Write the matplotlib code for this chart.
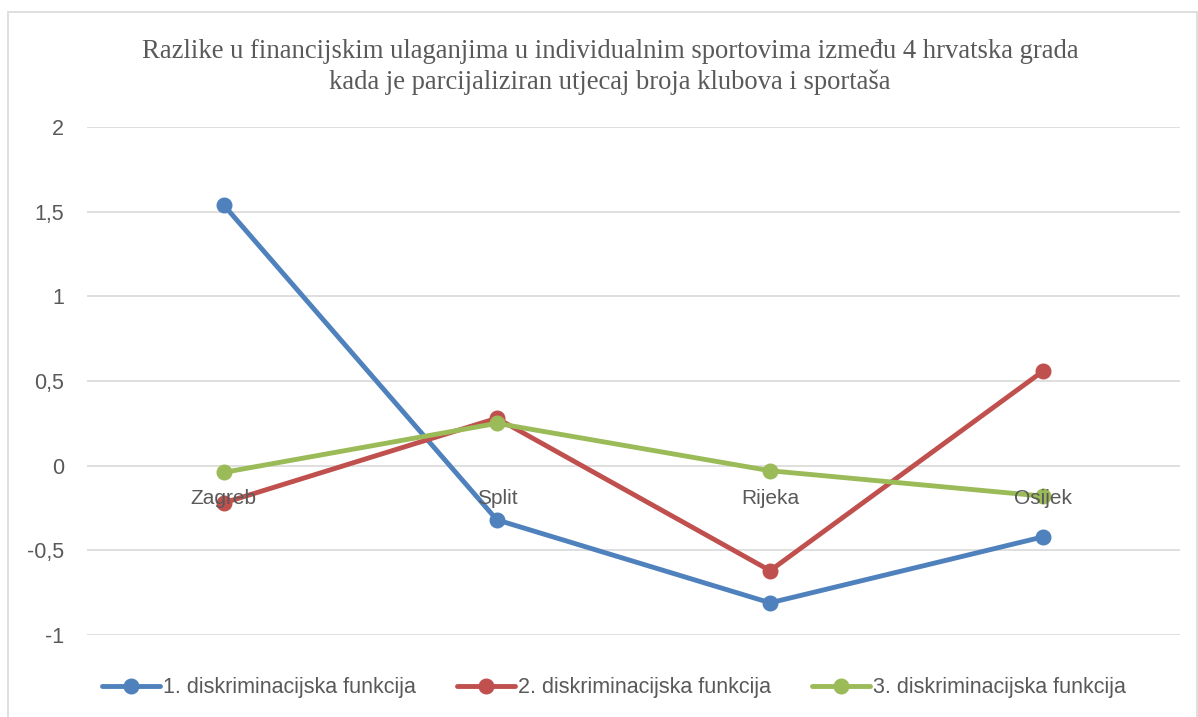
import matplotlib
matplotlib.use('Agg')
import matplotlib.pyplot as plt
from matplotlib.patches import Rectangle
from matplotlib.ticker import FuncFormatter

# ==========================================
# DATOS
# ==========================================
gradovi = ["Zagreb", "Split", "Rijeka", "Osijek"]
funkcija_1 = [1.54, -0.32, -0.81, -0.42]
funkcija_2 = [-0.22, 0.28, -0.62, 0.56]
funkcija_3 = [-0.04, 0.25, -0.03, -0.18]
nazivi = ["1. diskriminacijska funkcija",
          "2. diskriminacijska funkcija",
          "3. diskriminacijska funkcija"]
boje = ["#4F81BD", "#C0504D", "#9BBB59"]
y_ticks = [-1, -0.5, 0, 0.5, 1, 1.5, 2]

naslov = ("Razlike u financijskim ulaganjima u individualnim sportovima između 4 hrvatska grada\n"
          "kada je parcijaliziran utjecaj broja klubova i sportaša")

SIVA = "#595959"
SANS = ["Liberation Sans Narrow", "Liberation Sans", "DejaVu Sans"]

fig = plt.figure(figsize=(11.98, 7.17), dpi=100)
fig.patches.append(Rectangle((8 / 1198, -0.01), 1189 / 1198, 1 - 12 / 717 + 0.01,
                             transform=fig.transFigure, fill=False,
                             edgecolor="#D9D9D9", linewidth=1.2))

ax = fig.add_axes([87 / 1198, 1 - 635 / 717, 1093 / 1198, 508 / 717])
x = range(len(gradovi))
for serija, naziv, boja in zip([funkcija_1, funkcija_2, funkcija_3], nazivi, boje):
    ax.plot(x, serija, color=boja, linewidth=3.5, marker="o", markersize=10.5,
            label=naziv, solid_capstyle="round", zorder=3)

ax.set_ylim(-1, 2)
ax.set_xlim(-0.5, 3.5)
ax.set_yticks(y_ticks)
ax.yaxis.set_major_formatter(FuncFormatter(lambda v, p: f"{v:g}".replace(".", ",")))
ax.grid(axis="y", color="#D9D9D9", linewidth=1.2, zorder=0)
for s in ["top", "right", "left"]:
    ax.spines[s].set_visible(False)
ax.spines["bottom"].set_position(("data", 0))
ax.spines["bottom"].set_visible(False)
ax.set_xticks(list(x))
ax.set_xticklabels(gradovi)
ax.tick_params(axis="x", length=0, pad=17, labelsize=15, labelcolor=SIVA)
ax.tick_params(axis="y", length=0, pad=16.5, labelsize=15.5, labelcolor=SIVA)
for lbl in ax.get_xticklabels() + ax.get_yticklabels():
    lbl.set_family(SANS)
# nazivi gradova preko linija, kao u Excelu
ax.xaxis.set_zorder(4)

fig.text(610 / 1198, 1 - 67 / 717, naslov, ha="center", va="center",
         family="Liberation Serif", fontsize=19.2, color=SIVA, linespacing=1.27)

leg = fig.legend(loc="center", bbox_to_anchor=(614 / 1198, 1 - 688 / 717), ncol=3,
                 frameon=False, handlelength=2.7, handletextpad=0.15, columnspacing=1.9,
                 prop={"family": SANS, "size": 15.5})
for t in leg.get_texts():
    t.set_color(SIVA)

plt.savefig("out.png", dpi=100)
plt.close()
